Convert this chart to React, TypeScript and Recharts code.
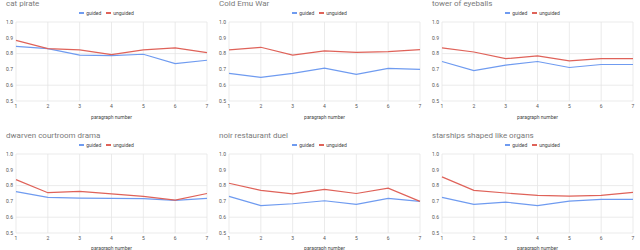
import { LineChart, Line, XAxis, YAxis, CartesianGrid } from 'recharts'

const paragraphs = [1, 2, 3, 4, 5, 6, 7]
const yTicks = [0.5, 0.6, 0.7, 0.8, 0.9, 1.0]

const catPirateGuided = [0.846, 0.832, 0.79, 0.787, 0.796, 0.737, 0.758]
const catPirateUnguided = [0.884, 0.832, 0.823, 0.794, 0.823, 0.836, 0.806]
const coldEmuGuided = [0.675, 0.65, 0.675, 0.708, 0.668, 0.706, 0.7]
const coldEmuUnguided = [0.823, 0.84, 0.79, 0.817, 0.808, 0.813, 0.825]
const towerGuided = [0.75, 0.692, 0.727, 0.75, 0.712, 0.731, 0.731]
const towerUnguided = [0.836, 0.81, 0.768, 0.785, 0.754, 0.768, 0.768]
const dwarvenGuided = [0.762, 0.725, 0.721, 0.719, 0.717, 0.706, 0.719]
const dwarvenUnguided = [0.838, 0.755, 0.763, 0.748, 0.732, 0.708, 0.75]
const noirGuided = [0.732, 0.673, 0.685, 0.704, 0.681, 0.719, 0.7]
const noirUnguided = [0.815, 0.77, 0.748, 0.776, 0.75, 0.784, 0.7]
const starshipsGuided = [0.725, 0.681, 0.696, 0.673, 0.702, 0.713, 0.713]
const starshipsUnguided = [0.855, 0.77, 0.753, 0.738, 0.734, 0.738, 0.757]

const BLUE = '#6f9bf0'
const RED = '#df6259'
const FONT = 'Roboto, Arial, sans-serif'
const W = 213
const H = 125

interface PanelProps {
  title: string
  guided: number[]
  unguided: number[]
  left: number
  top: number
  bottomRow: boolean
}

function Panel({ title, guided, unguided, left, top, bottomRow }: PanelProps) {
  const data = paragraphs.map((p, i) => ({ p, guided: guided[i], unguided: unguided[i] }))
  const plotTop = bottomRow ? 29 : 22
  const axisH = bottomRow ? 17 : 24
  const titleTop = bottomRow ? 6 : -1
  const legendTop = bottomRow ? 17 : 10
  return (
    <div style={{ position: 'absolute', left, top, width: W, height: H, fontFamily: FONT }}>
      <div style={{ position: 'absolute', left: 6, top: titleTop, fontSize: 8, color: '#7a7a7a', whiteSpace: 'nowrap' }}>{title}</div>
      <div style={{ position: 'absolute', left: 0, width: W, top: legendTop, display: 'flex', justifyContent: 'center', alignItems: 'center', fontSize: 5, color: '#444', lineHeight: '6px' }}>
        <span style={{ display: 'inline-block', width: 5, height: 1.5, background: BLUE, marginRight: 2 }} />
        <span style={{ marginRight: 5 }}>guided</span>
        <span style={{ display: 'inline-block', width: 5, height: 1.5, background: RED, marginRight: 2 }} />
        <span>unguided</span>
      </div>
      <div style={{ position: 'absolute', left: 0, top: 0 }}>
        <LineChart width={W} height={H} data={data} margin={{ top: plotTop, right: 6, left: 0, bottom: 0 }}>
          <CartesianGrid stroke="#e6e6e6" strokeWidth={0.8} />
          <XAxis
            dataKey="p"
            type="number"
            domain={[1, 7]}
            ticks={paragraphs}
            height={axisH}
            axisLine={false}
            tickLine={false}
            tickSize={0}
            tickMargin={3}
            tick={{ fontSize: 5, fill: '#555', fontFamily: FONT }}
            label={{ value: 'paragraph number', position: 'insideBottom', offset: bottomRow ? 0 : 6, fontSize: 5, fill: '#444', fontFamily: FONT }}
          />
          <YAxis
            type="number"
            domain={[0.5, 1]}
            ticks={yTicks}
            width={16}
            axisLine={false}
            tickLine={false}
            tickSize={0}
            tickMargin={3}
            tickFormatter={(v: number) => v.toFixed(1)}
            tick={{ fontSize: 5, fill: '#555', fontFamily: FONT }}
          />
          <Line type="linear" dataKey="guided" stroke={BLUE} strokeWidth={1.2} dot={false} isAnimationActive={false} />
          <Line type="linear" dataKey="unguided" stroke={RED} strokeWidth={1.2} dot={false} isAnimationActive={false} />
        </LineChart>
      </div>
    </div>
  )
}

export default function App() {
  return (
    <div style={{ position: 'absolute', left: 0, top: 0, width: 640, height: 250, background: '#fff', overflow: 'hidden' }}>
      <Panel title="cat pirate" guided={catPirateGuided} unguided={catPirateUnguided} left={0} top={0} bottomRow={false} />
      <Panel title="Cold Emu War" guided={coldEmuGuided} unguided={coldEmuUnguided} left={213} top={0} bottomRow={false} />
      <Panel title="tower of eyeballs" guided={towerGuided} unguided={towerUnguided} left={426} top={0} bottomRow={false} />
      <Panel title="dwarven courtroom drama" guided={dwarvenGuided} unguided={dwarvenUnguided} left={0} top={125} bottomRow />
      <Panel title="noir restaurant duel" guided={noirGuided} unguided={noirUnguided} left={213} top={125} bottomRow />
      <Panel title="starships shaped like organs" guided={starshipsGuided} unguided={starshipsUnguided} left={426} top={125} bottomRow />
    </div>
  )
}
